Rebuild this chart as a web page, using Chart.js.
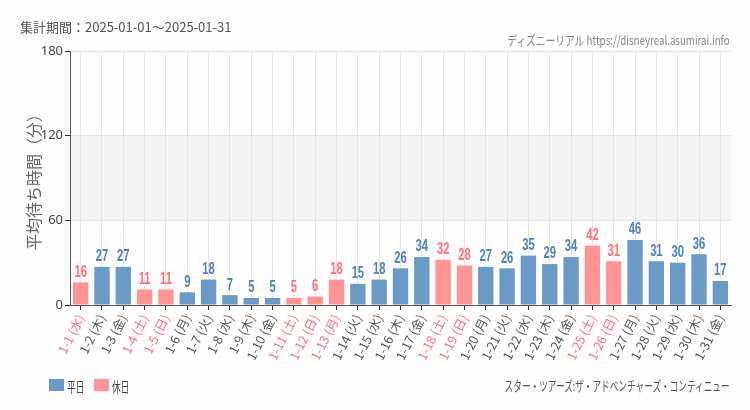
<!DOCTYPE html>
<html>
<head>
<meta charset="utf-8">
<script src="https://cdn.jsdelivr.net/npm/chart.js@4"></script>
<style>
  body { margin:0; background:#fcfdfc; font-family:"Noto Sans CJK JP", sans-serif; }
  #wrap { position:relative; width:750px; height:410px; }
  #c { position:absolute; left:0; top:0; }
  .txt { position:absolute; white-space:nowrap; }
  #period { left:20px; top:17px; font-size:13px; color:#555; }
  #site { right:20px; top:30px; font-size:13px; color:#888; transform:scaleX(0.75); transform-origin:right center; }
  #attr { right:20px; top:375px; font-size:13.5px; color:#555; transform:scaleX(0.64); transform-origin:right center; }
  .lg { position:absolute; top:376px; font-size:14px; color:#444; }
  .lg span { display:inline-block; transform:scaleX(0.62); transform-origin:left center; }
  .box { position:absolute; top:379px; width:15px; height:12px; }
</style>
</head>
<body>
<div id="wrap">
  <canvas id="c" width="750" height="410"></canvas>
  <div class="txt" id="period">集計期間：2025-01-01～2025-01-31</div>
  <div class="txt" id="site">ディズニーリアル https://disneyreal.asumirai.info</div>
  <div class="txt" id="attr">スター・ツアーズ:ザ・アドベンチャーズ・コンティニュー</div>
  <div class="box" style="left:49px;background:#6b9ac6"></div>
  <div class="lg" style="left:67px"><span>平日</span></div>
  <div class="box" style="left:94px;background:#ff9497"></div>
  <div class="lg" style="left:112px"><span>休日</span></div>
</div>
<script>
var dias = ["1-1 (水)","1-2 (木)","1-3 (金)","1-4 (土)","1-5 (日)","1-6 (月)","1-7 (火)","1-8 (水)","1-9 (木)","1-10 (金)",
  "1-11 (土)","1-12 (日)","1-13 (月)","1-14 (火)","1-15 (水)","1-16 (木)","1-17 (金)","1-18 (土)","1-19 (日)","1-20 (月)",
  "1-21 (火)","1-22 (水)","1-23 (木)","1-24 (金)","1-25 (土)","1-26 (日)","1-27 (月)","1-28 (火)","1-29 (水)","1-30 (木)","1-31 (金)"];
var esperas = [16,27,27,11,11,9,18,7,5,5,5,6,18,15,18,26,34,32,28,27,26,35,29,34,42,31,46,31,30,36,17];
var feriados = [1,0,0,1,1,0,0,0,0,0,1,1,1,0,0,0,0,1,1,0,0,0,0,0,1,1,0,0,0,0,0];
var yTicks = [0,60,120,180];

var azul = "#6b9ac6", rosa = "#ff9497";
var azulTxt = "#4f84b8", rosaTxt = "#ff7078";

var corBarra = [], corTexto = [];
for (let i = 0; i < esperas.length; i++) {
    corBarra.push(feriados[i] ? rosa : azul);
    corTexto.push(feriados[i] ? rosaTxt : azulTxt);
}

// faixa cinza entre 60 e 120
var faixa = {
    id: 'faixa',
    beforeDraw(chart) {
        var c = chart.ctx, y = chart.scales.y, a = chart.chartArea;
        c.save();
        c.fillStyle = "#f3f4f3";
        c.fillRect(a.left, y.getPixelForValue(120), a.right - a.left, y.getPixelForValue(60) - y.getPixelForValue(120));
        c.restore();
    }
};

// valores em cima das barras (fonte estreita)
var rotulos = {
    id: 'rotulos',
    afterDatasetsDraw(chart) {
        var c = chart.ctx, meta = chart.getDatasetMeta(0);
        meta.data.forEach(function (bar, i) {
            c.save();
            c.translate(bar.x, bar.y - 2);
            c.scale(0.7, 1);
            c.font = "bold 16px 'Liberation Sans', sans-serif";
            c.textAlign = "center";
            c.textBaseline = "bottom";
            c.fillStyle = corTexto[i];
            c.fillText(esperas[i], 0, 0);
            c.restore();
        });
    }
};

var ctx = document.getElementById('c').getContext('2d');
var chart = new Chart(ctx, {
    type: 'bar',
    data: {
        labels: dias,
        datasets: [{
            data: esperas,
            backgroundColor: corBarra,
            borderWidth: 0,
            barPercentage: 0.72,
            categoryPercentage: 1
        }]
    },
    options: {
        responsive: false,
        animation: false,
        layout: { padding: { left: 20, right: 19, top: 51, bottom: 50 } },
        plugins: { legend: { display: false }, tooltip: { enabled: false } },
        scales: {
            x: {
                grid: { offset: false, color: "#e6e6e6", tickColor: "#333", tickLength: 5 },
                border: { color: "#555" },
                ticks: {
                    autoSkip: false, maxRotation: 63, minRotation: 63, padding: 2,
                    font: { size: 12.5, family: "'Noto Sans CJK JP', sans-serif" },
                    color: function (c) { return feriados[c.index] ? rosaTxt : "#555"; }
                },
                afterFit: function (s) { s.height = 55; }
            },
            y: {
                min: 0, max: 180,
                afterBuildTicks: function (s) { s.ticks = yTicks.map(function (v) { return { value: v }; }); },
                grid: { color: "#e6e6e6", tickColor: "#333", tickLength: 5 },
                border: { color: "#555" },
                ticks: { padding: 2, color: "#444", font: { size: 13, family: "'Noto Sans', sans-serif" } },
                title: { display: true, text: "平均待ち時間（分）", color: "#666", padding: { top: 4, bottom: 0 },
                    font: { size: 16, family: "'Noto Sans CJK JP', sans-serif" } },
                afterFit: function (s) { s.width = 50; }
            }
        }
    },
    plugins: [faixa, rotulos]
});
</script>
</body>
</html>
